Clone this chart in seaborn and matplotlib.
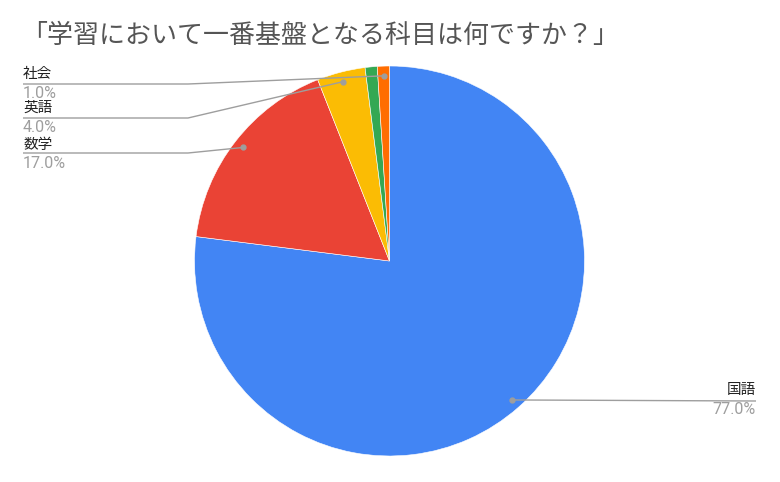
import numpy as np
import matplotlib.pyplot as plt
import seaborn as sns

# データ
title = '「学習において一番基盤となる科目は何ですか？」'
subjects = ['国語', '数学', '英語', '理科', '社会']
shares = [77.0, 17.0, 4.0, 1.0, 1.0]
colors = ['#4285F4', '#EA4335', '#FBBC04', '#34A853', '#FF6D01']

# ラベルの配置 (ピクセル, 上から): 名前のy, 線のy, %のy
label_pos = {
    '社会': ('left', 74, 84, 93),
    '英語': ('left', 108, 118, 128),
    '数学': ('left', 145, 153, 163),
    '国語': ('right', 390, 401, 410),
}

sns.set_theme(style='white')
plt.rcParams['font.family'] = ['Noto Sans CJK JP', 'DejaVu Sans']

W, H = 780, 482
fig = plt.figure(figsize=(7.8, 4.82), dpi=100)
ax = fig.add_axes([0, 0, 1, 1])

cx, cy, R = 389.5, H - 261, 195
wedges, _ = ax.pie(shares, colors=colors, startangle=90, counterclock=False,
                   center=(cx, cy), radius=R,
                   wedgeprops=dict(linewidth=0.4, edgecolor='white'))
ax.set_xlim(0, W)
ax.set_ylim(0, H)
ax.set_aspect('equal')
ax.axis('off')

line_col = '#9e9e9e'
for w, name, val in zip(wedges, subjects, shares):
    if name not in label_pos:
        continue
    side, y_name, y_line, y_pct = label_pos[name]
    mid = np.deg2rad((w.theta1 + w.theta2) / 2)
    dx = cx + 0.95 * R * np.cos(mid)
    dy = cy + 0.95 * R * np.sin(mid)
    if side == 'left':
        xs = [23, 188, dx]
        ys = [H - y_line, H - y_line, dy]
        xt, ha = 23, 'left'
    else:
        xs = [dx, 756]
        ys = [dy, H - y_line]
        xt, ha = 756, 'right'
    ax.plot(xs, ys, color=line_col, lw=1, solid_capstyle='butt')
    ax.plot(dx, dy, 'o', color=line_col, ms=3.5)
    ax.text(xt, H - y_name, name, ha=ha, va='center', fontsize=10.5, color='#222222')
    ax.text(xt, H - y_pct, f'{val:.1f}%', ha=ha, va='center', fontsize=11.5,
            color='#9e9e9e', family=['Roboto', 'DejaVu Sans'])

fig.text(21 / W, 1 - 35 / H, title, ha='left', va='center', fontsize=18.7, color='#555555')

fig.savefig('out.png', dpi=100)
